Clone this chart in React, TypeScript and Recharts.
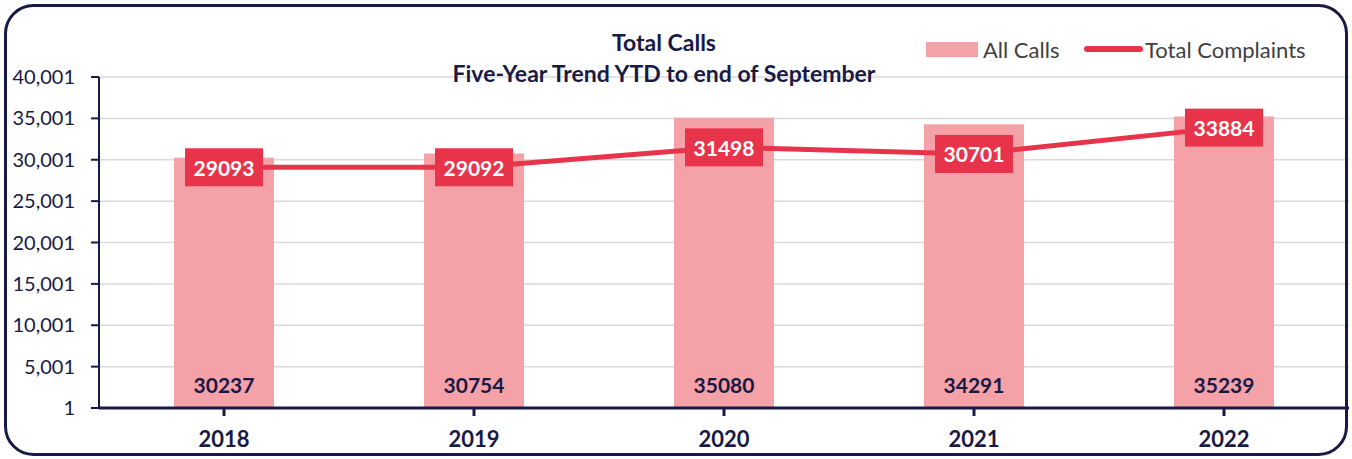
import React from 'react';
import { ComposedChart, Bar, Line, XAxis, YAxis, CartesianGrid, LabelList } from 'recharts';

const years = ['2018', '2019', '2020', '2021', '2022'];
const allCalls = [30237, 30754, 35080, 34291, 35239];
const totalComplaints = [29093, 29092, 31498, 30701, 33884];
const yTicks = [1, 5001, 10001, 15001, 20001, 25001, 30001, 35001, 40001];

const data = years.map((year, i) => ({
  year,
  allCalls: allCalls[i],
  totalComplaints: totalComplaints[i],
}));

const NAVY = '#181a45';
const BAR = '#f4a1a8';
const RED = '#e8344a';
const FONT = 'Lato, "Open Sans", sans-serif';

const BarBottomLabel = (props: any) => {
  const { x, y, width, height, value } = props;
  return (
    <text
      x={x + width / 2}
      y={y + height - 24}
      textAnchor="middle"
      dominantBaseline="central"
      fill={NAVY}
      fontWeight={700}
      fontSize={21}
      fontFamily={FONT}
    >
      {value}
    </text>
  );
};

const LineBoxLabel = (props: any) => {
  const { x, y, value } = props;
  return (
    <g>
      <rect x={x - 39} y={y - 19} width={78} height={38} fill={RED} />
      <text
        x={x}
        y={y}
        textAnchor="middle"
        dominantBaseline="central"
        fill="#ffffff"
        fontWeight={700}
        fontSize={21}
        fontFamily={FONT}
      >
        {value}
      </text>
    </g>
  );
};

export default function App() {
  return (
    <div style={{ position: 'absolute', left: 0, top: 0, width: 1352, height: 459, background: '#fff', fontFamily: FONT }}>
      <ComposedChart
        width={1352}
        height={459}
        data={data}
        margin={{ top: 77, right: 3, bottom: 0, left: 0 }}
      >
        <CartesianGrid vertical={false} stroke="#d9d9d9" strokeWidth={1.5} />
        <XAxis
          dataKey="year"
          height={51}
          axisLine={{ stroke: NAVY, strokeWidth: 3 }}
          tickLine={{ stroke: NAVY, strokeWidth: 3 }}
          tickSize={8}
          tickMargin={15}
          tick={{ fill: NAVY, fontSize: 22, fontWeight: 700, fontFamily: FONT }}
        />
        <YAxis
          width={99}
          domain={[1, 40001]}
          ticks={yTicks}
          interval={0}
          allowDataOverflow
          axisLine={{ stroke: NAVY, strokeWidth: 2 }}
          tickLine={{ stroke: NAVY, strokeWidth: 2 }}
          tickSize={8}
          tickMargin={16}
          tickFormatter={(v: number) => v.toLocaleString('en-US')}
          tick={{ fill: NAVY, fontSize: 20, fontFamily: FONT }}
        />
        <Bar dataKey="allCalls" fill={BAR} barSize={100} isAnimationActive={false}>
          <LabelList dataKey="allCalls" content={BarBottomLabel} />
        </Bar>
        <Line
          dataKey="totalComplaints"
          stroke={RED}
          strokeWidth={5}
          dot={false}
          activeDot={false}
          isAnimationActive={false}
        >
          <LabelList dataKey="totalComplaints" content={LineBoxLabel} />
        </Line>
      </ComposedChart>
      <svg width={1352} height={459} style={{ position: 'absolute', left: 0, top: 0, pointerEvents: 'none' }}>
        <rect x={5.5} y={5.5} width={1341} height={449} rx={28} ry={28} fill="none" stroke={NAVY} strokeWidth={3} />
        <text x={664} y={42} textAnchor="middle" dominantBaseline="central" fill={NAVY} fontWeight={700} fontSize={23} fontFamily={FONT}>
          Total Calls
        </text>
        <text x={664} y={73} textAnchor="middle" dominantBaseline="central" fill={NAVY} fontWeight={700} fontSize={23} fontFamily={FONT}>
          Five-Year Trend YTD to end of September
        </text>
        <rect x={926} y={42} width={52} height={15} fill={BAR} />
        <text x={983} y={49} dominantBaseline="central" fill="#404040" fontSize={22} fontFamily={FONT}>
          All Calls
        </text>
        <line x1={1087} y1={49} x2={1140} y2={49} stroke={RED} strokeWidth={6} strokeLinecap="round" />
        <text x={1145} y={49} dominantBaseline="central" fill="#404040" fontSize={22} fontFamily={FONT}>
          Total Complaints
        </text>
      </svg>
    </div>
  );
}
